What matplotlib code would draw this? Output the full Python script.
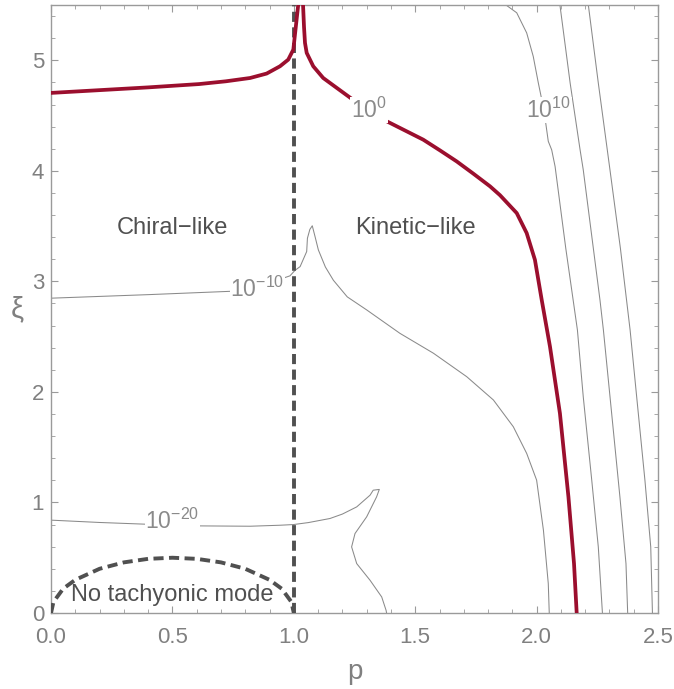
import numpy as np
import matplotlib
matplotlib.use("Agg")
import matplotlib.pyplot as plt
from matplotlib.ticker import MultipleLocator

plt.rcParams['font.family'] = ['Liberation Sans', 'DejaVu Sans']
plt.rcParams['mathtext.default'] = 'regular'

# contour 10^0 (thick red)
red_p = [0.0, 0.2, 0.4, 0.61, 0.72, 0.82, 0.888, 0.943, 0.977, 0.998, 1.008, 1.018, 1.028,
         1.038, 1.042, 1.046, 1.053, 1.080, 1.121, 1.177, 1.245, 1.383, 1.533, 1.602, 1.671,
         1.739, 1.808, 1.849, 1.918, 1.959, 1.993, 2.021, 2.055, 2.096, 2.131, 2.154, 2.165]
red_xi = [4.705, 4.73, 4.755, 4.785, 4.81, 4.84, 4.88, 4.946, 5.006, 5.097, 5.3, 5.5, 5.62,
          5.5, 5.3, 5.157, 5.067, 4.946, 4.84, 4.75, 4.641, 4.448, 4.282, 4.185, 4.085,
          3.975, 3.86, 3.78, 3.618, 3.437, 3.195, 2.832, 2.41, 1.806, 1.051, 0.447, 0.0]

# contour 10^-10
m10_p = [0.0, 0.4, 0.737, 0.85, 0.984, 1.005, 1.026, 1.053, 1.056, 1.066, 1.076, 1.088,
         1.101, 1.13, 1.163, 1.22, 1.30, 1.437, 1.575, 1.712, 1.822, 1.904, 1.959, 2.0,
         2.028, 2.048, 2.052]
m10_xi = [2.848, 2.88, 2.91, 2.95, 3.05, 3.10, 3.134, 3.27, 3.39, 3.47, 3.503, 3.40,
          3.285, 3.13, 3.01, 2.86, 2.742, 2.53, 2.35, 2.138, 1.927, 1.685, 1.444, 1.202,
          0.749, 0.266, 0.0]

# contour 10^-20
m20_p = [0.0, 0.2, 0.394, 0.614, 0.82, 0.943, 0.998, 1.06, 1.149, 1.2, 1.259, 1.314, 1.327,
         1.352, 1.341, 1.30, 1.252, 1.238, 1.259, 1.314, 1.362, 1.38, 1.382]
m20_xi = [0.84, 0.819, 0.803, 0.788, 0.785, 0.794, 0.80, 0.818, 0.855, 0.895, 0.96, 1.066,
          1.111, 1.118, 1.051, 0.87, 0.719, 0.598, 0.447, 0.296, 0.145, 0.024, 0.0]

# contour 10^10 and the two lines beyond it
p10_p = [1.874, 1.918, 1.959, 1.986, 2.007, 2.03, 2.048, 2.062, 2.076, 2.12, 2.168, 2.192,
         2.227, 2.254, 2.271]
p10_xi = [5.5, 5.43, 5.248, 5.036, 4.795, 4.55, 4.267, 4.19, 4.04, 3.3, 2.56, 1.957,
          1.202, 0.598, 0.0]
p20_p = [2.096, 2.138, 2.179, 2.192, 2.261, 2.275, 2.309, 2.343, 2.368, 2.375]
p20_xi = [5.5, 4.795, 4.19, 4.01, 2.83, 2.56, 1.806, 1.051, 0.447, 0.0]
p30_p = [2.213, 2.254, 2.302, 2.345, 2.385, 2.412, 2.446, 2.47, 2.477]
p30_xi = [5.5, 4.795, 4.01, 3.3, 2.56, 1.957, 1.202, 0.598, 0.0]

# boundary of the "no tachyonic mode" region
bound_p = [0.0, 0.01, 0.05, 0.1, 0.2, 0.3, 0.4, 0.5, 0.6, 0.7, 0.8, 0.9, 0.95, 0.99, 1.0]
bound_xi = [0.0, 0.1, 0.22, 0.3, 0.4, 0.458, 0.49, 0.5, 0.49, 0.458, 0.4, 0.3, 0.22, 0.1, 0.0]

# contour labels: (p, xi, text)
labels = [(1.31, 4.55, r'$10^{0}$'), (2.05, 4.55, r'$10^{10}$'),
          (0.85, 2.93, r'$10^{-10}$'), (0.50, 0.83, r'$10^{-20}$')]

red = '#9b0f2e'
gray = '#8a8a8a'
dark = '#505050'
frame = '#9a9a9a'

fig = plt.figure(figsize=(6.74, 6.89), dpi=100)
ax = fig.add_axes([0.0757, 0.1103, 0.9006, 0.8824])

for xs, ys in [(m10_p, m10_xi), (m20_p, m20_xi), (p10_p, p10_xi),
               (p20_p, p20_xi), (p30_p, p30_xi)]:
    ax.plot(xs, ys, color=gray, lw=0.75, zorder=2)

ax.plot(bound_p, bound_xi, color=dark, lw=2.8, ls=(0, (2.6, 1.4)), zorder=3)
ax.plot([1, 1], [0, 5.5], color=dark, lw=2.8, ls=(0, (2.6, 1.4)), zorder=3)
ax.plot(red_p, red_xi, color=red, lw=2.7, zorder=4, solid_joinstyle='round')

for x, y, t in labels:
    ax.text(x, y, t, ha='center', va='center', fontsize=16.5, color=gray, zorder=5,
            bbox=dict(facecolor='white', edgecolor='none', pad=0.5))

ax.text(0.5, 3.48, 'Chiral\u2212like', ha='center', va='center', fontsize=17, color=dark)
ax.text(1.5, 3.48, 'Kinetic\u2212like', ha='center', va='center', fontsize=17, color=dark)
ax.text(0.5, 0.16, 'No tachyonic mode', ha='center', va='center', fontsize=17, color=dark,
        zorder=6)

ax.set_xlim(0, 2.5)
ax.set_ylim(0, 5.5)
ax.xaxis.set_major_locator(MultipleLocator(0.5))
ax.xaxis.set_minor_locator(MultipleLocator(0.1))
ax.yaxis.set_major_locator(MultipleLocator(1))
ax.yaxis.set_minor_locator(MultipleLocator(0.2))
ax.xaxis.set_major_formatter(plt.FormatStrFormatter('%.1f'))
ax.tick_params(which='both', direction='in', top=True, right=True, color=frame,
               labelcolor='#808080', labelsize=16)
ax.tick_params(which='major', length=5, width=0.8)
ax.tick_params(which='minor', length=3, width=0.6)
ax.tick_params(axis='x', pad=10)
ax.tick_params(axis='y', pad=5)
for s in ax.spines.values():
    s.set_color(frame)
    s.set_linewidth(1.0)

ax.set_xlabel('p', fontsize=20, color='#808080', labelpad=8)
ax.set_ylabel('\u03be', fontsize=21, color='#808080', rotation=0, labelpad=10, va='center')

fig.savefig('out.png', dpi=100)
